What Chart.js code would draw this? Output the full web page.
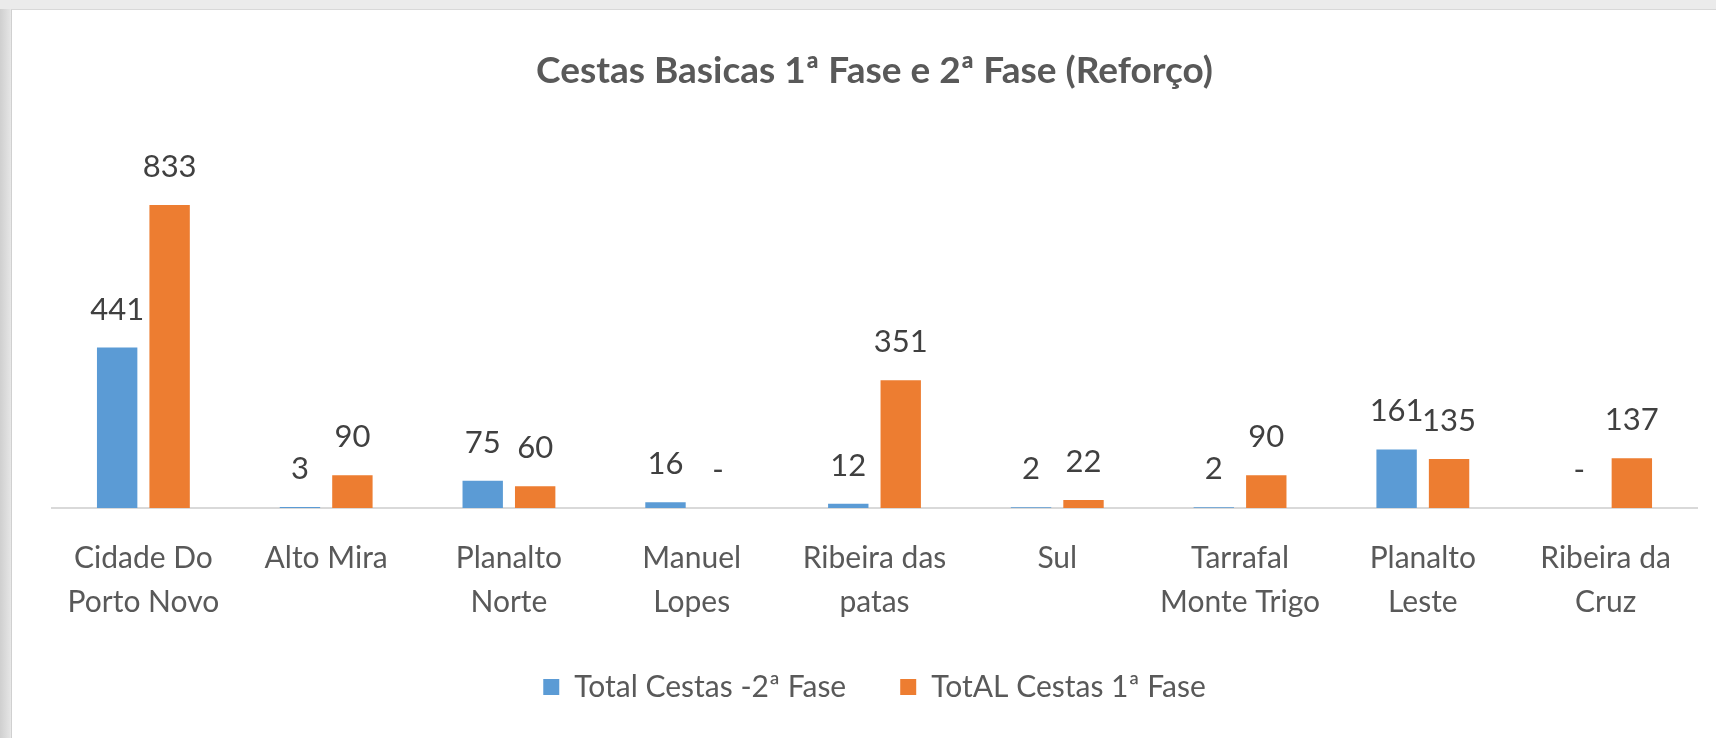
<!DOCTYPE html>
<html>
<head>
<meta charset="utf-8">
<script src="https://cdn.jsdelivr.net/npm/chart.js@4.4.1/dist/chart.umd.min.js"></script>
<style>
	html, body { margin: 0; padding: 0; }
	body {
		width: 1716px;
		height: 738px;
		overflow: hidden;
		background: linear-gradient(to right, #cfcfcf 0px, #e4e4e4 10px, #e9e9e9 11px);
		position: relative;
	}
	#frame {
		position: absolute;
		left: 11px;
		top: 9px;
		width: 1705px;
		height: 729px;
		overflow: hidden;
		background: #fff;
		border-top: 1px solid #d8d8d8;
		border-left: 1px solid #d0d0d0;
		box-sizing: border-box;
	}
	#topband {
		position: absolute;
		left: 0; top: 0;
		width: 1716px; height: 9px;
		background: #ebebeb;
	}
	canvas { display: block; }
</style>
</head>
<body>
<div id="topband"></div>
<div id="frame">
	<canvas id="barChart" width="1703" height="727"></canvas>
</div>
<script>
// DATA
const categories = [
	['Cidade Do', 'Porto Novo'],
	'Alto Mira',
	['Planalto', 'Norte'],
	['Manuel', 'Lopes'],
	['Ribeira das', 'patas'],
	'Sul',
	['Tarrafal', 'Monte Trigo'],
	['Planalto', 'Leste'],
	['Ribeira da', 'Cruz']
];
const fase2Values = [441, 3, 75, 16, 12, 2, 2, 161, 0];
const fase1Values = [833, 90, 60, 0, 351, 22, 90, 135, 137];

const fontFamily = "Lato, 'Open Sans', sans-serif";

// data labels, zero shown as '-'
const valueLabels = {
	id: 'valueLabels',
	afterDatasetsDraw(chart) {
		const ctx = chart.ctx;
		ctx.save();
		ctx.font = '31px ' + fontFamily;
		ctx.fillStyle = '#404040';
		ctx.textAlign = 'center';
		ctx.textBaseline = 'middle';
		chart.data.datasets.forEach((ds, i) => {
			const meta = chart.getDatasetMeta(i);
			meta.data.forEach((bar, j) => {
				const v = ds.data[j];
				ctx.fillText(v === 0 ? '-' : String(v), bar.x, bar.y - 38);
			});
		});
		ctx.restore();
	}
};

const data = {
	labels: categories,
	datasets: [{
		label: 'Total Cestas -2ª Fase',
		data: fase2Values,
		backgroundColor: 'rgb(91, 155, 213)',
		borderWidth: 0
	},
	{
		label: 'TotAL Cestas 1ª Fase',
		data: fase1Values,
		backgroundColor: 'rgb(237, 125, 49)',
		borderWidth: 0
	}]
};

const config = {
	type: 'bar',
	data: data,
	options: {
		responsive: false,
		animation: false,
		datasets: {
			bar: {
				categoryPercentage: 0.574,
				barPercentage: 0.77
			}
		},
		layout: {
			padding: { left: 40, right: 18, top: 0, bottom: 25 }
		},
		plugins: {
			title: {
				display: true,
				text: 'Cestas Basicas 1ª Fase e 2ª Fase (Reforço)',
				color: '#595959',
				font: { family: fontFamily, size: 37, weight: 'bold' },
				padding: { top: 39, bottom: 50 }
			},
			legend: {
				position: 'bottom',
				labels: {
					color: '#595959',
					font: { family: fontFamily, size: 30 },
					boxWidth: 16,
					boxHeight: 16,
					padding: 54
				}
			},
			tooltip: { enabled: false }
		},
		scales: {
			x: {
				grid: { display: false, drawTicks: false },
				border: { display: true, color: '#d9d9d9', width: 2 },
				ticks: {
					color: '#595959',
					font: { family: fontFamily, size: 30, lineHeight: 1.45 },
					padding: 29,
					maxRotation: 0,
					autoSkip: false
				},
				afterFit(scale) {
					scale.height -= 35;
				}
			},
			y: {
				display: false,
				min: 0,
				max: 1002
			}
		}
	},
	plugins: [valueLabels]
};

new Chart(document.getElementById('barChart').getContext('2d'), config);
</script>
</body>
</html>
